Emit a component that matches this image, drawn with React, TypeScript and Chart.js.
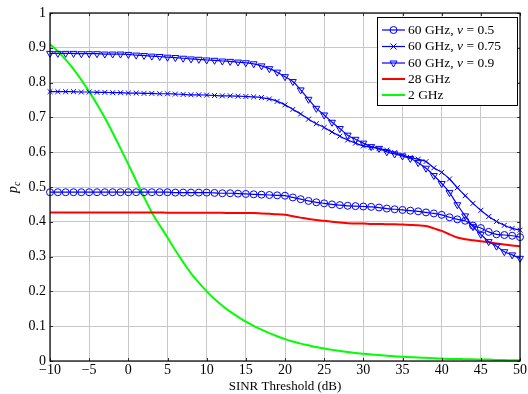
import React, { useEffect, useRef } from "react";
import { Chart, registerables } from "chart.js";

Chart.register(...registerables);

const sinr: number[] = [];
for (let v = -10; v <= 50; v++) sinr.push(v);

const xTicks = [-10, -5, 0, 5, 10, 15, 20, 25, 30, 35, 40, 45, 50];
const yTicks = [0, 0.1, 0.2, 0.3, 0.4, 0.5, 0.6, 0.7, 0.8, 0.9, 1];

const ghz60nu05 = [
  0.485, 0.485, 0.485, 0.485, 0.485, 0.485, 0.485, 0.485, 0.485, 0.485,
  0.485, 0.485, 0.485, 0.485, 0.485, 0.485, 0.484, 0.484, 0.484, 0.484,
  0.484, 0.483, 0.482, 0.482, 0.481, 0.48, 0.479, 0.478, 0.477, 0.476,
  0.475, 0.47, 0.465, 0.46, 0.456, 0.453, 0.45, 0.448, 0.446, 0.445,
  0.444, 0.443, 0.441, 0.438, 0.436, 0.434, 0.432, 0.43, 0.427, 0.424,
  0.42, 0.413, 0.407, 0.403, 0.389, 0.382, 0.371, 0.364, 0.362, 0.36,
  0.356,
];

const ghz60nu075 = [
  0.774, 0.774, 0.774, 0.774, 0.773, 0.773, 0.772, 0.772, 0.771, 0.771,
  0.77, 0.77, 0.769, 0.769, 0.768, 0.768, 0.767, 0.766, 0.765, 0.765,
  0.764, 0.763, 0.762, 0.762, 0.761, 0.76, 0.759, 0.757, 0.753, 0.746,
  0.736, 0.723, 0.71, 0.695, 0.682, 0.671, 0.658, 0.646, 0.635, 0.626,
  0.618, 0.614, 0.61, 0.606, 0.599, 0.592, 0.585, 0.58, 0.573, 0.555,
  0.542, 0.523, 0.498, 0.475, 0.453, 0.433, 0.415, 0.401, 0.39, 0.381,
  0.376,
];

const ghz60nu09 = [
  0.884, 0.884, 0.884, 0.884, 0.883, 0.883, 0.883, 0.882, 0.882, 0.882,
  0.881, 0.879, 0.878, 0.876, 0.875, 0.873, 0.872, 0.87, 0.868, 0.867,
  0.865, 0.864, 0.862, 0.861, 0.859, 0.857, 0.854, 0.848, 0.84, 0.83,
  0.817, 0.803, 0.779, 0.752, 0.726, 0.707, 0.686, 0.668, 0.649, 0.637,
  0.626, 0.616, 0.611, 0.601, 0.595, 0.589, 0.582, 0.57, 0.554, 0.533,
  0.51, 0.484, 0.449, 0.417, 0.386, 0.364, 0.343, 0.33, 0.314, 0.305,
  0.295,
];

const ghz28 = [
  0.427, 0.427, 0.427, 0.427, 0.427, 0.427, 0.427, 0.427, 0.427, 0.427,
  0.427, 0.427, 0.427, 0.427, 0.427, 0.426, 0.426, 0.426, 0.426, 0.426,
  0.426, 0.426, 0.426, 0.425, 0.425, 0.425, 0.425, 0.424, 0.423, 0.422,
  0.42, 0.416, 0.412, 0.408, 0.405, 0.403, 0.4, 0.398, 0.396, 0.395,
  0.395, 0.394, 0.394, 0.393, 0.393, 0.392, 0.391, 0.39, 0.388, 0.381,
  0.374, 0.364, 0.355, 0.35, 0.347, 0.344, 0.341, 0.338, 0.335, 0.332,
  0.33,
];

const ghz2 = [
  0.91, 0.89, 0.866, 0.839, 0.808, 0.774, 0.738, 0.699, 0.656, 0.611,
  0.565, 0.518, 0.471, 0.427, 0.39, 0.355, 0.318, 0.284, 0.252, 0.225,
  0.2, 0.178, 0.159, 0.142, 0.127, 0.113, 0.101, 0.09, 0.08, 0.071,
  0.063, 0.056, 0.05, 0.045, 0.04, 0.036, 0.032, 0.029, 0.026, 0.023,
  0.021, 0.019, 0.017, 0.015, 0.014, 0.012, 0.011, 0.01, 0.009, 0.008,
  0.007, 0.006, 0.006, 0.005, 0.005, 0.004, 0.004, 0.003, 0.003, 0.002,
  0.002,
];

const legendLabels = [
  { pre: "60 GHz, ", nu: "ν", post: " = 0.5", color: "#0000ff", marker: "circle" },
  { pre: "60 GHz, ", nu: "ν", post: " = 0.75", color: "#0000ff", marker: "cross" },
  { pre: "60 GHz, ", nu: "ν", post: " = 0.9", color: "#0000ff", marker: "tri" },
  { pre: "28 GHz", nu: "", post: "", color: "#ff0000", marker: "" },
  { pre: "2 GHz", nu: "", post: "", color: "#00ff00", marker: "" },
];

const SERIF = "'Liberation Serif', 'DejaVu Serif', serif";
const BLUE = "#0000ff";
const LFONT = 13.5;

const toPts = (ys: number[]) => ys.map((y, i) => ({ x: sinr[i], y }));

function drawMarker(ctx: CanvasRenderingContext2D, kind: string, x: number, y: number) {
  ctx.save();
  ctx.strokeStyle = BLUE;
  ctx.lineWidth = 1;
  ctx.beginPath();
  if (kind === "circle") {
    ctx.arc(x, y, 3.5, 0, Math.PI * 2);
  } else if (kind === "cross") {
    const r = 3;
    ctx.moveTo(x - r, y - r);
    ctx.lineTo(x + r, y + r);
    ctx.moveTo(x + r, y - r);
    ctx.lineTo(x - r, y + r);
  } else if (kind === "tri") {
    const r = 4;
    ctx.moveTo(x - r * 0.866, y - r * 0.5);
    ctx.lineTo(x + r * 0.866, y - r * 0.5);
    ctx.lineTo(x, y + r);
    ctx.closePath();
  }
  ctx.stroke();
  ctx.restore();
}

const decorPlugin = {
  id: "decor",
  afterDraw(chart: any) {
    const ctx: CanvasRenderingContext2D = chart.ctx;
    const a = chart.chartArea;
    const xs = chart.scales.x;
    const ys = chart.scales.y;
    ctx.save();
    // tick marks inside
    ctx.strokeStyle = "#333";
    ctx.lineWidth = 1;
    ctx.beginPath();
    for (const t of xTicks) {
      const px = Math.round(xs.getPixelForValue(t)) + 0.5;
      ctx.moveTo(px, a.bottom);
      ctx.lineTo(px, a.bottom - 3);
      ctx.moveTo(px, a.top);
      ctx.lineTo(px, a.top + 3);
    }
    for (const t of yTicks) {
      const py = Math.round(ys.getPixelForValue(t)) + 0.5;
      ctx.moveTo(a.left, py);
      ctx.lineTo(a.left + 3, py);
      ctx.moveTo(a.right, py);
      ctx.lineTo(a.right - 3, py);
    }
    ctx.stroke();
    // frame
    ctx.strokeStyle = "#000";
    ctx.lineWidth = 1.2;
    ctx.strokeRect(a.left, a.top, a.right - a.left, a.bottom - a.top);

    // legend
    const bx = 377, by = 17, bw = 140, bh = 88;
    ctx.fillStyle = "#fff";
    ctx.fillRect(bx, by, bw, bh);
    ctx.strokeStyle = "#000";
    ctx.lineWidth = 1;
    ctx.strokeRect(bx + 0.5, by + 0.5, bw, bh);
    const rowY = [30, 46.5, 63, 79, 95];
    legendLabels.forEach((l, i) => {
      const y = rowY[i];
      ctx.strokeStyle = l.color;
      ctx.lineWidth = l.marker ? 1.2 : 2;
      ctx.beginPath();
      ctx.moveTo(382, y);
      ctx.lineTo(405, y);
      ctx.stroke();
      if (l.marker) drawMarker(ctx, l.marker, 393.5, y);
      ctx.fillStyle = "#000";
      ctx.textBaseline = "middle";
      ctx.textAlign = "left";
      let tx = 408;
      ctx.font = `${LFONT}px ${SERIF}`;
      ctx.fillText(l.pre, tx, y);
      tx += ctx.measureText(l.pre).width;
      if (l.nu) {
        ctx.font = `italic ${LFONT}px ${SERIF}`;
        ctx.fillText(l.nu, tx, y);
        tx += ctx.measureText(l.nu).width;
        ctx.font = `${LFONT}px ${SERIF}`;
        ctx.fillText(l.post, tx, y);
      }
    });

    // y label p_c
    ctx.translate(14, 187);
    ctx.rotate(-Math.PI / 2);
    ctx.fillStyle = "#000";
    ctx.textBaseline = "alphabetic";
    ctx.textAlign = "left";
    ctx.font = `italic 14px ${SERIF}`;
    const pw = ctx.measureText("p").width;
    ctx.fillText("p", -6, 3);
    ctx.font = `italic 10px ${SERIF}`;
    ctx.fillText("c", -6 + pw, 6);
    ctx.restore();
  },
};

export default function App() {
  const ref = useRef<HTMLCanvasElement>(null);
  useEffect(() => {
    document.body.style.margin = "0";
    const canvas = ref.current!;
    const common = { clip: false as any, cubicInterpolationMode: "monotone" as const };
    const chart = new Chart(canvas, {
      type: "line",
      data: {
        datasets: [
          {
            label: "60 GHz, ν = 0.5",
            data: toPts(ghz60nu05),
            borderColor: BLUE,
            borderWidth: 1.2,
            pointStyle: "circle",
            pointRadius: 3.5,
            pointBorderWidth: 1,
            pointBorderColor: BLUE,
            pointBackgroundColor: "rgba(0,0,0,0)",
            ...common,
          },
          {
            label: "60 GHz, ν = 0.75",
            data: toPts(ghz60nu075),
            borderColor: BLUE,
            borderWidth: 1.2,
            pointStyle: "crossRot",
            pointRadius: 3.5,
            pointBorderWidth: 1,
            pointBorderColor: BLUE,
            pointBackgroundColor: "rgba(0,0,0,0)",
            ...common,
          },
          {
            label: "60 GHz, ν = 0.9",
            data: toPts(ghz60nu09),
            borderColor: BLUE,
            borderWidth: 1.2,
            pointStyle: "triangle",
            rotation: 180,
            pointRadius: 4,
            pointBorderWidth: 1,
            pointBorderColor: BLUE,
            pointBackgroundColor: "rgba(0,0,0,0)",
            ...common,
          },
          {
            label: "28 GHz",
            data: toPts(ghz28),
            borderColor: "#ff0000",
            borderWidth: 2,
            pointRadius: 0,
            ...common,
          },
          {
            label: "2 GHz",
            data: toPts(ghz2),
            borderColor: "#00ff00",
            borderWidth: 2,
            pointRadius: 0,
            ...common,
          },
        ],
      },
      options: {
        animation: false,
        responsive: false,
        devicePixelRatio: 1,
        layout: { padding: { left: 0, right: 8, top: 13, bottom: 0 } },
        plugins: { legend: { display: false }, tooltip: { enabled: false } },
        scales: {
          x: {
            type: "linear",
            min: -10,
            max: 50,
            afterBuildTicks: (s: any) => {
              s.ticks = xTicks.map((v) => ({ value: v }));
            },
            afterFit: (s: any) => {
              s.height = 33;
            },
            grid: { color: "#c8c8c8", lineWidth: 1, drawTicks: false },
            border: { display: false },
            ticks: {
              color: "#000",
              padding: 1,
              maxRotation: 0,
              autoSkip: false,
              font: { family: SERIF, size: 14 },
              callback: (v: any) => (v < 0 ? "\u2212" + Math.abs(v) : String(v)),
            },
            title: {
              display: true,
              text: "SINR Threshold (dB)",
              color: "#000",
              font: { family: SERIF, size: 13 },
              padding: { top: 0, bottom: 0 },
            },
          },
          y: {
            type: "linear",
            min: 0,
            max: 1,
            afterBuildTicks: (s: any) => {
              s.ticks = yTicks.map((v) => ({ value: v }));
            },
            afterFit: (s: any) => {
              s.width = 50;
            },
            grid: { color: "#c8c8c8", lineWidth: 1, drawTicks: false },
            border: { display: false },
            ticks: {
              color: "#000",
              padding: 4,
              autoSkip: false,
              font: { family: SERIF, size: 14 },
              callback: (v: any) => String(Number(Number(v).toFixed(1))),
            },
          },
        },
      },
      plugins: [decorPlugin],
    });
    return () => chart.destroy();
  }, []);
  return <canvas ref={ref} width={528} height={394} style={{ display: "block" }} />;
}
